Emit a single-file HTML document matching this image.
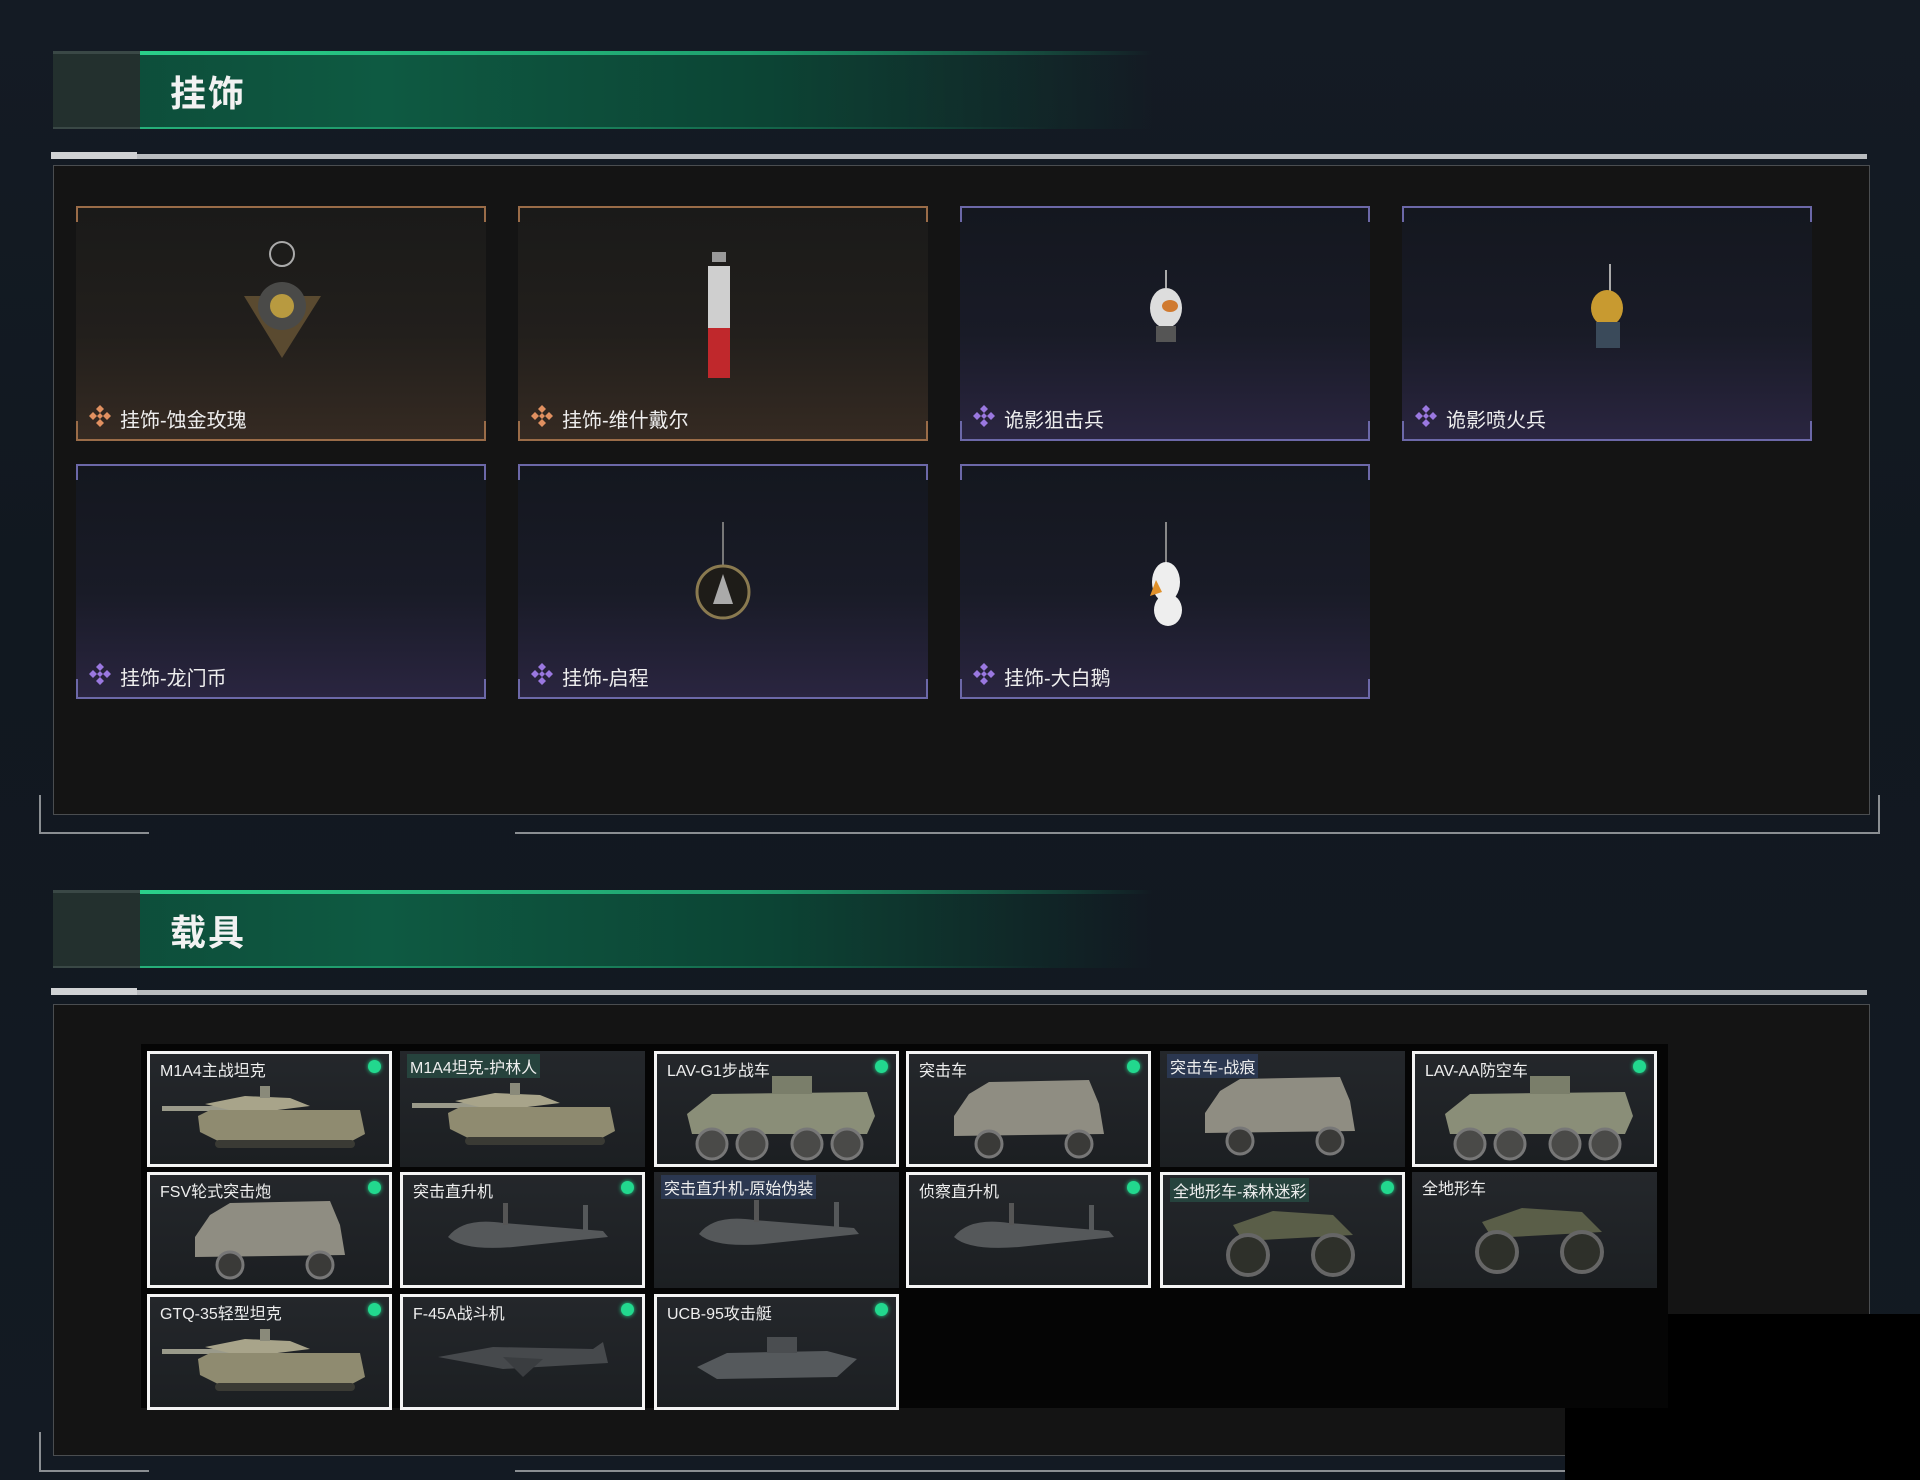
<!DOCTYPE html>
<html><head><meta charset="utf-8">
<style>
*{margin:0;padding:0;box-sizing:border-box}
body{width:1920px;height:1480px;position:relative;overflow:hidden;background:#111820;font-family:"Liberation Sans","Noto Sans CJK SC",sans-serif;color:#eee}
.abs{position:absolute}
.bg{background:linear-gradient(180deg,#141b24 0%,#111820 40%,#131a23 100%)}
.hdr{position:absolute;left:53px;width:1100px;height:78px;background:linear-gradient(90deg,#0d4a38 0%,#0e5a42 30%,#0c4434 65%,rgba(12,40,35,0) 100%)}
.hdr .blk{position:absolute;left:0;top:0;width:87px;height:78px;background:#23302e;border-top:3px solid #3a4846;border-bottom:2px solid #3a4846}
.hdr .tl{position:absolute;left:87px;top:0;right:0;height:4px;background:linear-gradient(90deg,#2ad08a,#1fa06e 60%,rgba(30,150,100,0))}
.hdr .bl{position:absolute;left:87px;bottom:0;right:100px;height:2px;background:linear-gradient(90deg,#26b07a,rgba(30,150,100,0))}
.hdr .t{position:absolute;left:117px;top:14px;font-size:36px;font-weight:bold;color:#f2f2f2;letter-spacing:2px}
.gl{position:absolute;left:51px;width:1816px;height:5px;background:#b9bcbf}
.gl::before{content:"";position:absolute;left:0;top:-2px;width:86px;height:7px;background:#d0d2d4}
.panel{position:absolute;left:53px;width:1817px;background:#141414;border:1px solid #4a4d50}
.br{position:absolute;height:2px;background:#8a8e92}
.card{position:absolute;width:410px;height:235px;border-top:2px solid;border-bottom:2px solid}
.card::before,.card::after{content:"";position:absolute;top:0;width:2px;height:14px}
.card::before{left:0}.card::after{right:0}
.card .b1,.card .b2{position:absolute;bottom:0;width:2px;height:18px}
.card .b1{left:0}.card .b2{right:0}
.gold{border-color:#9a6c48;background:linear-gradient(180deg,#1a1a19 0%,#221f1c 55%,#352a22 100%)}
.gold::before,.gold::after,.gold .b1,.gold .b2{background:#9a6c48}
.pur{border-color:#6c68a8;background:linear-gradient(180deg,#14171f 0%,#191b27 55%,#2a2540 100%)}
.pur::before,.pur::after,.pur .b1,.pur .b2{background:#6c68a8}
.card .lb{position:absolute;left:44px;top:196px;font-size:20px;color:#eee}
.card .ic{position:absolute;left:12px;top:196px;width:24px;height:24px}
.card svg.it{position:absolute;left:0;top:0}
.vb{position:absolute;left:141px;top:1044px;width:1527px;height:364px;background:#050505}
.tile{position:absolute;width:245px;height:116px;background:linear-gradient(180deg,#24272b,#1c1f22);overflow:hidden}
.tile.w{border:3px solid #f4f4f4}
.tile .n{position:absolute;left:7px;top:3px;font-size:16px;color:#eee;padding:0 3px;white-space:nowrap}
.tile .n.h{background:rgba(40,80,70,.7)}
.tile .n.hb{background:rgba(45,60,90,.8)}
.tile .d{position:absolute;right:8px;top:6px;width:13px;height:13px;border-radius:50%;background:#22d88e;box-shadow:0 0 4px #22d88e}
.tile svg{position:absolute;left:0;top:0}
</style></head><body class="bg">
<svg width="0" height="0" style="position:absolute">
<defs>
<symbol id="tank" viewBox="0 0 245 116"><rect x="12" y="52" width="85" height="5" fill="#9a9a8a"/><path d="M55 50 L95 42 L140 44 L160 52 L95 60Z" fill="#a8a48a"/><rect x="110" y="32" width="10" height="12" fill="#8a8a7a"/><path d="M48 62 L60 56 L210 56 L215 80 L200 88 L70 88 L50 78Z" fill="#8f8b70"/><rect x="65" y="86" width="140" height="8" rx="4" fill="#3a3a34"/></symbol>
<symbol id="apc" viewBox="0 0 245 116"><path d="M30 60 L55 40 L210 38 L218 62 L210 80 L35 80Z" fill="#8a8e78"/><rect x="115" y="22" width="40" height="18" fill="#7a7e6a"/><g fill="#4a4a48" stroke="#777" stroke-width="3"><circle cx="55" cy="90" r="15"/><circle cx="95" cy="90" r="15"/><circle cx="150" cy="90" r="15"/><circle cx="190" cy="90" r="15"/></g></symbol>
<symbol id="truck" viewBox="0 0 245 116"><path d="M45 62 L60 40 L80 28 L180 26 L190 50 L195 80 L45 82Z" fill="#8f8d82"/><g fill="#3a3a38" stroke="#777" stroke-width="3"><circle cx="80" cy="90" r="13"/><circle cx="170" cy="90" r="13"/></g></symbol>
<symbol id="heli" viewBox="0 0 245 116"><path d="M45 62 Q60 42 100 48 L200 56 L205 62 L110 72 Q60 76 45 62Z" fill="#55585a"/><rect x="180" y="30" width="5" height="34" fill="#55585a"/><rect x="100" y="28" width="5" height="22" fill="#555"/></symbol>
<symbol id="atv" viewBox="0 0 245 116"><path d="M70 50 L110 36 L170 40 L190 60 L80 66Z" fill="#5a5e48"/><g fill="#2e302a" stroke="#666" stroke-width="4"><circle cx="85" cy="80" r="20"/><circle cx="170" cy="80" r="20"/></g></symbol>
<symbol id="jet" viewBox="0 0 245 116"><path d="M35 60 L90 50 L190 52 L200 45 L205 66 L100 72Z" fill="#46494c"/><path d="M100 60 L140 62 L120 80Z" fill="#3a3d40"/></symbol>
<symbol id="boat" viewBox="0 0 245 116"><path d="M40 70 L70 56 L170 54 L200 62 L180 80 L60 82Z" fill="#55595c"/><rect x="110" y="40" width="30" height="16" fill="#4a4d50"/></symbol>
<symbol id="dia" viewBox="0 0 24 24"><path d="M12 1 L16 5 L12 9 L8 5Z M19 8 L23 12 L19 16 L15 12Z M5 8 L9 12 L5 16 L1 12Z M12 15 L16 19 L12 23 L8 19Z M12 9 L15 12 L12 15 L9 12Z"/></symbol>
</defs></svg>

<!-- Section 1 -->
<div class="hdr" style="top:51px"><div class="blk"></div><div class="tl"></div><div class="bl"></div><div class="t">挂饰</div></div>
<div class="gl" style="top:154px"></div>
<div class="panel" style="top:165px;height:650px"></div>
<div class="br" style="left:39px;top:832px;width:110px"></div>
<div class="br" style="left:515px;top:832px;width:1365px"></div>
<div class="abs" style="left:39px;top:795px;width:2px;height:39px;background:#8a8e92"></div>
<div class="abs" style="left:1878px;top:795px;width:2px;height:39px;background:#8a8e92"></div>

<div class="card gold" style="left:76px;top:206px"><i class="b1"></i><i class="b2"></i>
<svg class="it" width="410" height="235"><circle cx="206" cy="46" r="12" fill="none" stroke="#aaa" stroke-width="2"/><path d="M168 88 L245 88 L206 150Z" fill="#5a4a30"/><circle cx="206" cy="98" r="24" fill="#4a4a48"/><circle cx="206" cy="98" r="12" fill="#b89a40"/></svg>
<svg class="ic" fill="#e09060"><use href="#dia"/></svg><div class="lb">挂饰-蚀金玫瑰</div></div>
<div class="card gold" style="left:518px;top:206px"><i class="b1"></i><i class="b2"></i>
<svg class="it" width="410" height="235"><rect x="194" y="44" width="14" height="10" fill="#999"/><rect x="190" y="58" width="22" height="70" fill="#cfcfcf"/><rect x="190" y="120" width="22" height="50" fill="#c0282c"/></svg>
<svg class="ic" fill="#e09060"><use href="#dia"/></svg><div class="lb">挂饰-维什戴尔</div></div>
<div class="card pur" style="left:960px;top:206px"><i class="b1"></i><i class="b2"></i>
<svg class="it" width="410" height="235"><line x1="206" y1="62" x2="206" y2="80" stroke="#aaa" stroke-width="2"/><ellipse cx="206" cy="100" rx="16" ry="20" fill="#ddd"/><ellipse cx="210" cy="98" rx="8" ry="6" fill="#d07a30"/><rect x="196" y="118" width="20" height="16" fill="#555"/></svg>
<svg class="ic" fill="#9a78e0"><use href="#dia"/></svg><div class="lb">诡影狙击兵</div></div>
<div class="card pur" style="left:1402px;top:206px"><i class="b1"></i><i class="b2"></i>
<svg class="it" width="410" height="235"><line x1="208" y1="56" x2="208" y2="84" stroke="#aaa" stroke-width="2"/><ellipse cx="205" cy="100" rx="16" ry="18" fill="#c89a30"/><rect x="194" y="114" width="24" height="26" fill="#3a4a5a"/></svg>
<svg class="ic" fill="#9a78e0"><use href="#dia"/></svg><div class="lb">诡影喷火兵</div></div>

<div class="card pur" style="left:76px;top:464px"><i class="b1"></i><i class="b2"></i>
<svg class="ic" fill="#9a78e0"><use href="#dia"/></svg><div class="lb">挂饰-龙门币</div></div>
<div class="card pur" style="left:518px;top:464px"><i class="b1"></i><i class="b2"></i>
<svg class="it" width="410" height="235"><line x1="205" y1="56" x2="205" y2="100" stroke="#777" stroke-width="2"/><circle cx="205" cy="126" r="26" fill="#1e1c18" stroke="#8a7a50" stroke-width="3"/><path d="M205 108 L195 138 L215 138Z" fill="#aaa"/></svg>
<svg class="ic" fill="#9a78e0"><use href="#dia"/></svg><div class="lb">挂饰-启程</div></div>
<div class="card pur" style="left:960px;top:464px"><i class="b1"></i><i class="b2"></i>
<svg class="it" width="410" height="235"><line x1="206" y1="56" x2="206" y2="98" stroke="#888" stroke-width="2"/><ellipse cx="206" cy="116" rx="14" ry="20" fill="#eee"/><ellipse cx="208" cy="144" rx="14" ry="16" fill="#eee"/><path d="M196 114 L190 130 L202 126Z" fill="#e0902a"/></svg>
<svg class="ic" fill="#9a78e0"><use href="#dia"/></svg><div class="lb">挂饰-大白鹅</div></div>

<!-- Section 2 -->
<div class="hdr" style="top:890px"><div class="blk"></div><div class="tl"></div><div class="bl"></div><div class="t">载具</div></div>
<div class="gl" style="top:990px"></div>
<div class="panel" style="top:1004px;height:452px"></div>
<div class="br" style="left:39px;top:1470px;width:110px"></div>
<div class="br" style="left:515px;top:1470px;width:1050px"></div>
<div class="abs" style="left:39px;top:1432px;width:2px;height:40px;background:#8a8e92"></div>
<div class="vb"></div>
<div class="abs" style="left:1668px;top:1314px;width:252px;height:166px;background:#000"></div>
<div class="abs" style="left:1565px;top:1408px;width:355px;height:72px;background:#000"></div>

<div class="tile w" style="left:147px;top:1051px"><svg width="245" height="116"><use href="#tank"/></svg><div class="n">M1A4主战坦克</div><i class="d"></i></div>
<div class="tile" style="left:400px;top:1051px"><svg width="245" height="116"><use href="#tank"/></svg><div class="n h">M1A4坦克-护林人</div></div>
<div class="tile w" style="left:654px;top:1051px"><svg width="245" height="116"><use href="#apc"/></svg><div class="n">LAV-G1步战车</div><i class="d"></i></div>
<div class="tile w" style="left:906px;top:1051px"><svg width="245" height="116"><use href="#truck"/></svg><div class="n">突击车</div><i class="d"></i></div>
<div class="tile" style="left:1160px;top:1051px"><svg width="245" height="116"><use href="#truck"/></svg><div class="n hb">突击车-战痕</div></div>
<div class="tile w" style="left:1412px;top:1051px"><svg width="245" height="116"><use href="#apc"/></svg><div class="n">LAV-AA防空车</div><i class="d"></i></div>

<div class="tile w" style="left:147px;top:1172px"><svg width="245" height="116"><use href="#truck"/></svg><div class="n">FSV轮式突击炮</div><i class="d"></i></div>
<div class="tile w" style="left:400px;top:1172px"><svg width="245" height="116"><use href="#heli"/></svg><div class="n">突击直升机</div><i class="d"></i></div>
<div class="tile" style="left:654px;top:1172px"><svg width="245" height="116"><use href="#heli"/></svg><div class="n hb">突击直升机-原始伪装</div></div>
<div class="tile w" style="left:906px;top:1172px"><svg width="245" height="116"><use href="#heli"/></svg><div class="n">侦察直升机</div><i class="d"></i></div>
<div class="tile w" style="left:1160px;top:1172px"><svg width="245" height="116"><use href="#atv"/></svg><div class="n h">全地形车-森林迷彩</div><i class="d"></i></div>
<div class="tile" style="left:1412px;top:1172px"><svg width="245" height="116"><use href="#atv"/></svg><div class="n">全地形车</div></div>

<div class="tile w" style="left:147px;top:1294px"><svg width="245" height="116"><use href="#tank"/></svg><div class="n">GTQ-35轻型坦克</div><i class="d"></i></div>
<div class="tile w" style="left:400px;top:1294px"><svg width="245" height="116"><use href="#jet"/></svg><div class="n">F-45A战斗机</div><i class="d"></i></div>
<div class="tile w" style="left:654px;top:1294px"><svg width="245" height="116"><use href="#boat"/></svg><div class="n">UCB-95攻击艇</div><i class="d"></i></div>
</body></html>
